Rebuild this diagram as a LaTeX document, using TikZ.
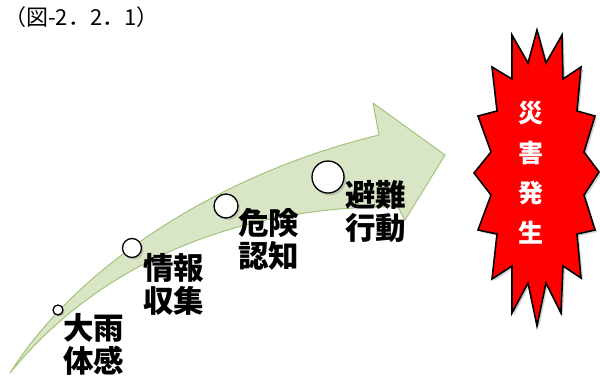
\documentclass[tikz,border=0pt]{standalone}
\usepackage{fontspec}
\newfontfamily\jp{Noto Sans CJK JP}
\definecolor{bandfill}{HTML}{D9E6C6}
\definecolor{bandline}{HTML}{A3C27A}
\definecolor{burstred}{HTML}{FF0000}
\begin{document}
\begin{tikzpicture}[x=1pt,y=-1pt,
  dot/.style={circle,draw=black,line width=1.3pt,fill=white,inner sep=0pt},
  dotshadow/.style={circle,fill=black!40,opacity=0.45,inner sep=0pt},
  stagelabel/.style={anchor=north west,inner sep=0pt,align=left,
     font=\jp\bfseries\fontsize{30.5}{33}\selectfont},
  bursttext/.style={align=center,inner sep=0pt,text=white,
     font=\jp\bfseries\fontsize{25}{40}\selectfont},
  titletext/.style={anchor=north west,inner sep=0pt,
     font=\jp\fontsize{22}{24}\selectfont}]
\useasboundingbox (0,0) rectangle (600,381);
% title
\node[titletext] (title) at (4,6) {（図-2．2．1）};
% curved arrow
\fill[bandfill] (10,373) .. controls (80,262) and (225,172) .. (379,135)
   -- (373,103) -- (445,155) -- (405,220) -- (398,207)
   .. controls (260,205) and (110,250) .. (10,373) -- cycle;
\draw[bandline,line width=1pt,line join=round] (10,373) .. controls (80,262) and (225,172) .. (379,135)
   -- (373,103) -- (445,155) -- (405,220) -- (398,207)
   .. controls (260,205) and (110,250) .. (10,373) -- cycle;
% dots with shadows
\node[dotshadow,minimum size=10pt] at (59.5,311.5) {};
\node[dot,minimum size=10pt] (d1) at (58,310) {};
\node[dotshadow,minimum size=19pt] at (134,250) {};
\node[dot,minimum size=19pt] (d2) at (132,248) {};
\node[dotshadow,minimum size=24pt] at (228,208) {};
\node[dot,minimum size=24pt] (d3) at (226,206) {};
\node[dotshadow,minimum size=32pt] at (330,179.5) {};
\node[dot,minimum size=32pt] (d4) at (328,177) {};
% labels
\node[stagelabel] (l1) at (63,313) {大雨\\体感};
\node[stagelabel] (l2) at (143,253) {情報\\収集};
\node[stagelabel] (l3) at (238,208) {危険\\認知};
\node[stagelabel] (l4) at (345,180) {避難\\行動};
% starburst
\fill[black!35,opacity=0.5,shift={(2,2)}] (537,30)--(546,63)--(562,35)--(563,79)--(581,67)--(577,111)--(595,116)--(584,152)--(599,172)--(584,195)--(595,230)--(577,234)--(581,278)--(563,266)--(561,313)--(546,283)--(537,326)--(528,283)--(512,313)--(512,266)--(492,279)--(497,234)--(478,230)--(491,195)--(474,173)--(491,152)--(478,116)--(497,111)--(492,67)--(512,79)--(512,35)--(528,63)--cycle;
\draw[fill=burstred,draw=black,line width=1.6pt,line join=miter] (537,30)--(546,63)--(562,35)--(563,79)--(581,67)--(577,111)--(595,116)--(584,152)--(599,172)--(584,195)--(595,230)--(577,234)--(581,278)--(563,266)--(561,313)--(546,283)--(537,326)--(528,283)--(512,313)--(512,266)--(492,279)--(497,234)--(478,230)--(491,195)--(474,173)--(491,152)--(478,116)--(497,111)--(492,67)--(512,79)--(512,35)--(528,63)--cycle;
\node[bursttext] (burst) at (531,173) {災\\害\\発\\生};
\end{tikzpicture}
\end{document}
